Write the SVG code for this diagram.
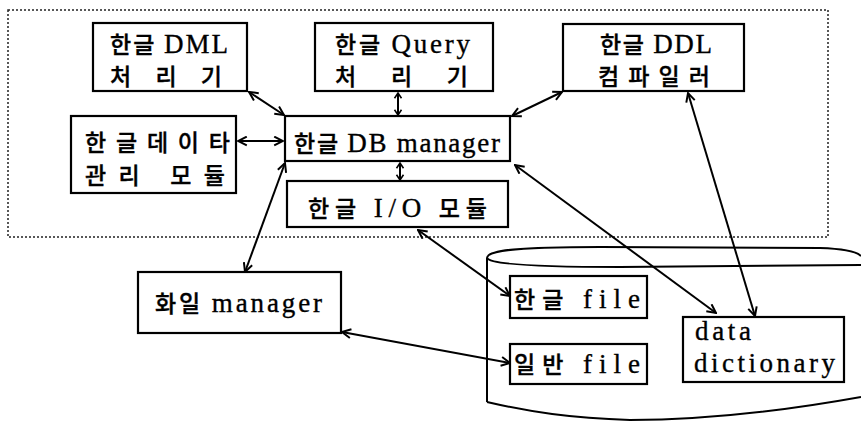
<svg xmlns="http://www.w3.org/2000/svg" width="861" height="421" viewBox="0 0 861 421">
  <style>
    .box { fill: #fff; stroke: #000; stroke-width: 2.2; }
    .frame { fill: none; stroke: #222; stroke-width: 1.5; stroke-dasharray: 2 2; }
    .cyl { fill: none; stroke: #000; stroke-width: 2; }
    .t { font-family: "Liberation Serif", "Noto Sans CJK KR", serif; font-size: 23px; font-weight: 500; fill: #000; stroke: #000; stroke-width: 0.35; }
    .l { font-size: 27px; }
    .conn line { stroke: #000; stroke-width: 2; marker-start: url(#arr); marker-end: url(#arr); }
    .conn line.short { marker-start: url(#arrs); marker-end: url(#arrs); }
  </style>
  <defs>
    <marker id="arr" viewBox="0 0 10 10" refX="9" refY="5" markerWidth="11" markerHeight="11" markerUnits="userSpaceOnUse" orient="auto-start-reverse">
      <path d="M1,1 L9,5 L1,9" fill="none" stroke="#000" stroke-width="1.8"/>
    </marker>
    <!-- compact head for the short vertical links -->
    <marker id="arrs" viewBox="0 0 8 10" refX="7" refY="5" markerWidth="7" markerHeight="10" markerUnits="userSpaceOnUse" orient="auto-start-reverse">
      <path d="M1,1 L7,5 L1,9" fill="none" stroke="#000" stroke-width="1.8"/>
    </marker>
  </defs>

  <rect width="861" height="421" fill="#fff"/>

  <!-- DBMS boundary -->
  <rect class="frame" x="8" y="10" width="820" height="227"/>

  <!-- storage cylinder -->
  <g id="storage">
    <path class="cyl" d="M487,258 C487,250 520,247 600,247 L820,248 C850,249 858,253 861,256"/>
    <path class="cyl" d="M487,258 C490,264 540,267 620,267 L861,265"/>
    <path class="cyl" d="M487,258 L487,402"/>
    <path class="cyl" d="M487,402 C530,412 570,418 630,420 C720,420 800,408 861,397"/>
  </g>

  <g id="dml">
    <rect class="box" x="93" y="23" width="154" height="68"/>
    <text class="t" x="110" y="53" textLength="118">한글 <tspan class="l">DML</tspan></text>
    <text class="t" x="110" y="85" textLength="112">처 리 기</text>
  </g>

  <g id="query">
    <rect class="box" x="315" y="23" width="178" height="68"/>
    <text class="t" x="335" y="53" textLength="135">한글 <tspan class="l">Query</tspan></text>
    <text class="t" x="335" y="85" textLength="133">처    리    기</text>
  </g>

  <g id="ddl">
    <rect class="box" x="563" y="24" width="181" height="67"/>
    <text class="t" x="600" y="53" textLength="112">한글 <tspan class="l">DDL</tspan></text>
    <text class="t" x="598" y="85" textLength="112">컴파일러</text>
  </g>

  <g id="datamodule">
    <rect class="box" x="71" y="116" width="165" height="77"/>
    <text class="t" x="85" y="151" textLength="145">한글데이타</text>
    <text class="t" x="85" y="184" textLength="140">관리   모듈</text>
  </g>

  <g id="dbmanager">
    <rect class="box" x="285" y="116" width="225" height="45"/>
    <text class="t" x="294" y="152" textLength="206">한글 <tspan class="l">DB manager</tspan></text>
  </g>

  <g id="iomodule">
    <rect class="box" x="287" y="181" width="221" height="46"/>
    <text class="t" x="308" y="217" textLength="179">한글 <tspan class="l">I/O</tspan> 모듈</text>
  </g>

  <g id="filemanager">
    <rect class="box" x="138" y="272" width="203" height="61"/>
    <text class="t" x="155" y="312" textLength="167">화일 <tspan class="l">manager</tspan></text>
  </g>

  <g id="hangulfile">
    <rect class="box" x="510" y="276" width="137" height="42"/>
    <text class="t" x="514" y="308" textLength="126">한글 <tspan class="l">file</tspan></text>
  </g>

  <g id="generalfile">
    <rect class="box" x="510" y="344" width="137" height="40"/>
    <text class="t" x="514" y="373" textLength="126">일반 <tspan class="l">file</tspan></text>
  </g>

  <g id="dictionary">
    <rect class="box" x="683" y="317" width="161" height="65"/>
    <text class="t l" x="695" y="340" textLength="56">data</text>
    <text class="t l" x="694" y="372" textLength="141">dictionary</text>
  </g>

  <g id="connectors" class="conn">
    <line x1="249" y1="92" x2="284" y2="115"/>
    <line class="short" x1="398" y1="93" x2="398" y2="115"/>
    <line x1="562" y1="92" x2="512" y2="116"/>
    <line x1="238" y1="141" x2="283" y2="141"/>
    <line class="short" x1="400" y1="163" x2="400" y2="180"/>
    <line x1="285" y1="163" x2="245" y2="272"/>
    <line x1="515" y1="165" x2="716" y2="313"/>
    <line x1="688" y1="93" x2="755" y2="316"/>
    <line x1="418" y1="230" x2="510" y2="296"/>
    <line x1="342" y1="332" x2="510" y2="363"/>
  </g>
</svg>
